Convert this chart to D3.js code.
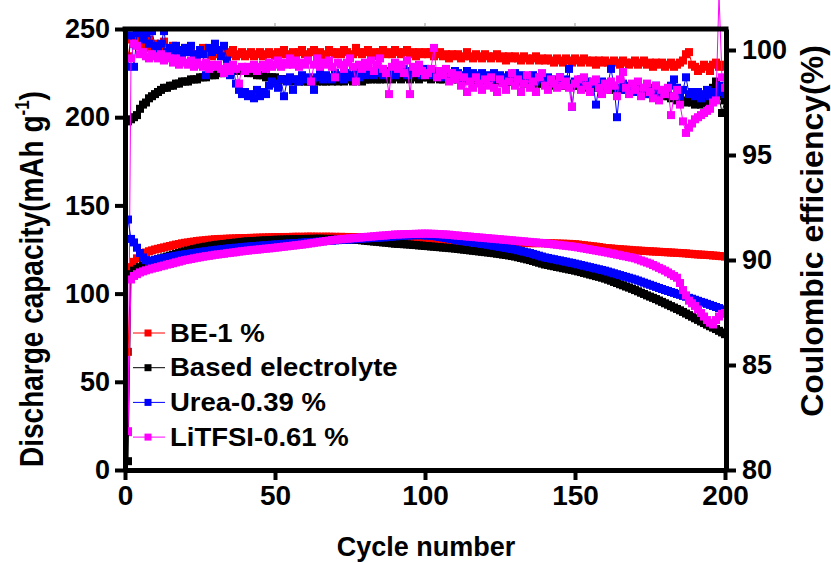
<!DOCTYPE html>
<html>
<head>
<meta charset="utf-8">
<style>
    body { margin: 0; background: #fff; }
    svg text { font-family: "Liberation Sans", Arial, sans-serif; font-weight: bold; }
</style>
</head>
<body>
<script src="https://d3js.org/d3.v7.min.js"></script>
<script>
// series names + colours (legend order = drawing order)
const seriesNames = ["BE-1 %", "Based electrolyte", "Urea-0.39 %", "LiTFSI-0.61 %"];
const seriesColors = ["#ff0000", "#000000", "#0000ff", "#ff00ff"];

const xTicks = [0, 50, 100, 150, 200];
const yLeftTicks = [0, 50, 100, 150, 200, 250];
const yRightTicks = [80, 85, 90, 95, 100];

// cycle number 1..200
const cycles = d3.range(1, 201);

// discharge capacity (mAh g-1)
const capBE = [
 67,115,118,120,121.5,122.5,123.3,124,124.5,125,
 125.4,125.8,126.2,126.6,127,127.4,127.8,128.1,128.5,128.8,
 129,129.3,129.5,129.8,130,130.1,130.3,130.5,130.6,130.8,
 130.9,131,131,131.1,131.2,131.2,131.3,131.4,131.4,131.5,
 131.5,131.6,131.6,131.7,131.7,131.8,131.8,131.9,131.9,132,
 132,132,132.1,132.1,132.1,132.2,132.2,132.2,132.2,132.2,
 132.3,132.3,132.2,132.3,132.2,132.2,132.3,132.2,132.2,132.2,
 132.1,132.2,132.1,132.1,132.1,132,132,132,132,132,
 131.9,131.9,131.8,131.8,131.7,131.7,131.6,131.6,131.5,131.5,
 131.4,131.3,131.2,131.1,131,130.9,130.8,130.7,130.6,130.5,
 130.4,130.3,130.2,130.1,130,129.9,129.8,129.7,129.6,129.5,
 129.5,129.4,129.4,129.3,129.3,129.2,129.2,129.1,129.1,129,
 129,129,128.9,128.9,128.9,128.8,128.8,128.8,128.8,128.8,
 128.7,128.7,128.7,128.7,128.6,128.6,128.6,128.6,128.6,128.6,
 128.5,128.5,128.4,128.4,128.3,128.3,128.2,128.2,128.1,128,
 127.8,127.6,127.4,127.2,127,126.8,126.6,126.4,126.1,125.8,
 125.7,125.6,125.4,125.3,125.2,125,124.9,124.8,124.6,124.5,
 124.4,124.3,124.2,124.1,124,123.9,123.8,123.7,123.6,123.5,
 123.4,123.3,123.2,123.1,123,122.9,122.8,122.6,122.5,122.3,
 122.2,122.1,122,121.9,121.8,121.6,121.5,121.3,121.2,121
];
const capBased = [
 5,111,113,114,115,116,116.8,117.5,118.2,119,
 119.5,120,120.5,121,121.5,122,122.5,123,123.5,124,
 124.4,124.8,125.2,125.6,126,126.3,126.6,126.9,127.2,127.5,
 127.7,127.9,128.1,128.3,128.5,128.7,128.9,129.1,129.3,129.5,
 129.6,129.7,129.8,129.9,130,130.1,130.2,130.3,130.4,130.5,
 130.5,130.6,130.6,130.7,130.7,130.8,130.8,130.9,130.9,131,
 131,131,131.1,131.1,131.1,131.1,131,131,131,131,
 130.9,130.9,130.8,130.8,130.7,130.6,130.5,130.4,130.2,130,
 129.8,129.7,129.5,129.4,129.2,129,128.9,128.7,128.5,128.3,
 128.2,128.1,128,127.9,127.8,127.6,127.5,127.3,127.2,127,
 126.9,126.7,126.6,126.4,126.3,126.1,126,125.8,125.7,125.5,
 125.3,125.1,124.9,124.7,124.5,124.3,124.1,123.9,123.7,123.5,
 123.3,123.1,122.9,122.6,122.4,122.1,121.9,121.6,121.3,121,
 120.6,120.2,119.8,119.4,119,118.5,118,117.5,117,116.5,
 116.2,115.8,115.5,115.1,114.8,114.4,114.1,113.7,113.4,113,
 112.6,112.2,111.7,111.3,110.8,110.4,109.9,109.5,109,108.5,
 107.9,107.3,106.6,106,105.3,104.7,104,103.4,102.7,102,
 101.3,100.5,99.8,99,98.3,97.6,96.9,96.1,95.3,94.5,
 93.7,92.9,92.1,91.3,90.5,89.6,88.7,87.8,86.9,86,
 85.1,84.2,83.3,82.4,81.5,80.7,79.9,78.9,78,77
];
const capUrea = [
 142,131,129,126,123,120.5,119,118.5,118.7,119.2,
 119.5,119.8,120.1,120.4,120.8,121.1,121.4,121.7,122,122.3,
 122.5,122.8,123,123.3,123.5,123.8,124,124.2,124.5,124.7,
 124.9,125.1,125.3,125.5,125.7,125.8,126,126.1,126.3,126.5,
 126.6,126.8,126.9,127,127.2,127.3,127.4,127.5,127.7,127.8,
 127.9,128,128.2,128.3,128.4,128.5,128.6,128.7,128.9,129,
 129.1,129.2,129.3,129.4,129.5,129.7,129.8,129.9,130,130.2,
 130.3,130.4,130.5,130.6,130.7,130.8,130.9,131,131.2,131.3,
 131.4,131.5,131.6,131.7,131.8,131.9,132,132.1,132.3,132.5,
 132.6,132.7,132.8,132.9,133,133.1,133.1,133.2,133.1,133,
 132.9,132.8,132.6,132.4,132.1,131.8,131.5,131.2,130.9,130.5,
 130.2,129.9,129.7,129.4,129.2,128.9,128.7,128.5,128.2,128,
 127.7,127.4,127.1,126.8,126.5,126.2,125.9,125.6,125.3,125,
 124.6,124.2,123.8,123.4,123,122.5,122,121.5,121,120.5,
 120.2,119.8,119.5,119.1,118.8,118.4,118.1,117.7,117.4,117,
 116.6,116.2,115.8,115.4,115,114.6,114.2,113.8,113.4,113,
 112.5,112,111.5,111,110.5,110,109.5,109,108.5,108,
 107.4,106.8,106.2,105.6,105,104.4,103.8,103.2,102.6,102,
 101.5,100.9,100.4,99.8,99.3,98.7,98.2,97.6,97.1,96.5,
 95.9,95.3,94.8,94.2,93.6,93,92.4,91.8,91.1,90.5
];
const capLiTFSI = [
 22,108,110,111,112,112.6,113.2,113.7,114.2,114.6,
 115,115.5,115.9,116.4,116.8,117.2,117.7,118.1,118.6,119,
 119.3,119.6,120,120.3,120.6,120.9,121.2,121.4,121.7,122,
 122.2,122.4,122.6,122.9,123.1,123.3,123.5,123.8,124,124.2,
 124.4,124.6,124.8,124.9,125.1,125.3,125.5,125.6,125.8,126,
 126.2,126.4,126.6,126.8,127,127.2,127.4,127.6,127.8,128,
 128.3,128.5,128.8,129,129.3,129.5,129.8,130,130.3,130.5,
 130.7,130.8,131,131.1,131.3,131.4,131.6,131.7,131.9,132,
 132.2,132.3,132.5,132.6,132.8,132.9,133,133.2,133.3,133.5,
 133.5,133.6,133.7,133.7,133.8,133.8,133.9,133.9,134,134,
 134,133.9,133.9,133.8,133.7,133.6,133.5,133.4,133.2,133,
 132.9,132.7,132.6,132.4,132.3,132.1,132,131.8,131.7,131.5,
 131.4,131.2,131.1,130.9,130.8,130.6,130.5,130.3,130.2,130,
 129.9,129.7,129.6,129.4,129.3,129.1,129,128.8,128.7,128.5,
 128.3,128.1,127.9,127.7,127.5,127.3,127.1,126.9,126.7,126.5,
 126.2,125.9,125.6,125.3,125,124.7,124.4,124.1,123.8,123.5,
 123.2,122.8,122.5,122.1,121.8,121.4,121.1,120.7,120.4,120,
 119.4,118.8,118.2,117.6,117,116.2,115.4,114.6,113.8,113,
 112,111,110,109,106,102,99,96,94.5,93,
 91,89,87,85,83.5,82.5,85,87,88.5,89
];

// coulombic efficiency (%)
const ceBE = [
 99.7,100.5,100.3,100.6,100.2,100.4,100.1,100.5,100.0,100.3,
 100.2,100.0,100.4,99.9,100.1,100.2,99.9,100.0,99.8,100.1,
 99.9,100.0,99.8,99.7,99.9,100.1,99.8,99.9,99.7,100.0,
 99.8,99.9,99.7,99.9,99.8,100.0,99.7,99.8,99.9,99.7,
 99.8,99.9,99.7,99.8,99.9,99.7,99.8,99.9,99.8,99.7,
 99.9,99.8,100.0,99.8,99.7,99.9,99.8,99.9,100.0,99.8,
 99.7,99.9,100.0,99.8,99.9,99.7,99.8,100.0,99.9,99.8,
 99.9,99.8,100.0,99.9,99.7,99.8,100.1,99.9,99.8,99.9,
 100.0,99.8,99.9,99.7,99.9,100.0,99.8,99.9,99.8,100.0,
 99.9,99.8,99.9,100.0,99.8,99.9,99.7,99.9,99.8,99.9,
 99.8,99.9,99.7,99.8,99.9,99.7,99.8,99.6,99.8,99.7,
 99.8,99.6,99.7,99.9,99.7,99.6,99.8,99.7,99.6,99.8,
 99.7,99.6,99.7,99.8,99.6,99.7,99.5,99.7,99.6,99.7,
 99.6,99.5,99.7,99.6,99.5,99.6,99.7,99.5,99.6,99.5,
 99.6,99.5,99.4,99.6,99.5,99.4,99.6,99.5,99.4,99.6,
 99.5,99.4,99.6,99.5,99.4,99.5,99.3,99.5,99.4,99.5,
 99.4,99.3,99.5,99.4,99.3,99.5,99.4,99.3,99.4,99.5,
 99.3,99.4,99.5,99.3,99.4,99.2,99.4,99.3,99.4,99.2,
 99.3,99.4,99.2,99.3,99.4,99.5,99.8,99.9,99.3,99.2,
 99.0,99.1,99.3,99.2,99.0,99.3,99.4,99.2,99.3,99.2
];
const ceBased = [
 96.6,96.7,96.8,96.9,97.2,97.4,97.5,97.7,97.8,97.9,
 98.0,98.1,98.2,98.2,98.3,98.3,98.4,98.4,98.5,98.5,
 98.5,98.6,98.6,98.6,98.7,98.7,98.7,98.8,98.8,98.8,
 98.9,98.9,98.9,99.0,99.0,99.0,99.0,99.0,99.0,99.0,
 98.9,98.9,98.9,98.8,98.8,98.8,98.7,98.7,98.7,98.7,
 98.6,98.6,98.6,98.6,98.6,98.5,98.6,98.5,98.6,98.5,
 98.5,98.6,98.5,98.5,98.6,98.5,98.5,98.6,98.5,98.6,
 98.5,98.6,98.5,98.6,98.6,98.5,98.6,98.6,98.5,98.6,
 98.6,98.6,98.7,98.6,98.6,98.7,98.6,98.7,98.6,98.7,
 98.7,98.6,98.7,98.7,98.6,98.7,98.7,98.6,98.7,98.7,
 98.7,98.6,98.7,98.7,98.6,98.6,98.7,98.6,98.6,98.7,
 98.6,98.6,98.7,98.6,98.6,98.6,98.5,98.6,98.6,98.5,
 98.6,98.5,98.6,98.5,98.5,98.6,98.5,98.5,98.5,98.4,
 98.5,98.5,98.4,98.5,98.4,98.4,98.5,98.4,98.4,98.4,
 98.4,98.3,98.4,98.3,98.4,98.3,98.3,98.4,98.3,98.3,
 98.3,98.2,98.3,98.2,98.3,98.2,98.2,98.3,98.2,98.2,
 98.2,98.1,98.2,98.1,98.2,98.1,98.1,98.2,98.0,98.1,
 98.0,98.1,98.0,97.9,98.0,97.9,97.9,97.8,97.9,97.8,
 97.8,97.7,97.8,97.6,97.7,97.6,97.5,97.6,97.5,97.4,
 97.5,97.4,97.5,97.6,97.3,98.2,98.5,97.8,97.0,97.6
];
const ceUrea = [
 99.2,100.7,99.2,100.8,100.9,100.5,100.8,100.3,100.9,100.2,
 100.0,100.3,100.9,99.9,100.1,99.8,100.2,100.0,99.7,100.1,
 99.9,100.2,99.8,99.6,100.0,99.8,98.8,100.1,99.9,100.3,
 100.0,99.7,100.2,99.5,98.8,99.2,98.4,98.1,97.9,98.0,
 97.8,97.9,97.7,98.1,97.8,98.0,97.9,98.3,98.5,98.4,
 98.2,98.6,97.8,98.5,98.7,98.1,98.6,98.5,98.8,98.6,
 98.7,98.5,98.1,98.7,98.9,98.6,98.8,98.7,98.6,98.9,
 98.7,98.8,98.6,98.9,98.7,98.8,99.0,98.7,98.9,98.8,
 98.9,99.0,98.8,99.1,98.9,98.8,99.0,98.9,99.1,98.8,
 99.0,98.9,99.1,98.8,99.0,99.1,98.9,99.0,98.8,99.1,
 98.9,99.0,98.8,99.0,98.9,98.7,99.0,98.9,98.8,99.0,
 98.9,98.8,98.6,99.0,98.7,98.9,98.8,98.6,98.9,98.7,
 98.8,98.6,98.9,98.7,98.8,98.5,98.7,98.8,98.6,98.9,
 98.6,98.8,98.5,98.7,98.6,98.8,98.5,98.7,98.6,98.5,
 98.7,98.5,98.6,98.4,98.7,98.5,98.6,99.1,97.3,98.5,
 98.4,98.6,98.3,98.5,98.2,98.4,97.4,98.3,98.5,98.2,
 98.4,99.1,98.3,96.8,98.2,98.4,98.1,98.3,98.2,98.0,
 98.3,98.1,98.2,97.9,98.2,98.0,98.3,97.8,98.1,97.9,
 98.0,98.3,98.6,98.2,97.8,98.1,98.7,97.9,98.0,97.8,
 98.0,97.7,97.9,98.1,97.8,98.0,97.9,98.3,98.0,97.9
];
const ceLiTFSI = [
 81.8,99.6,100.3,100.2,99.8,99.9,99.7,99.6,99.8,99.7,
 99.6,99.8,99.5,99.7,99.6,99.4,99.6,99.3,99.5,99.4,
 99.3,99.5,99.2,99.4,99.3,99.2,99.4,99.1,99.3,99.2,
 99.3,99.1,98.9,99.2,99.0,99.3,99.1,98.4,99.2,99.0,
 99.2,99.1,99.3,99.0,99.2,99.3,99.1,99.4,99.2,99.3,
 99.5,99.2,99.4,99.3,99.6,99.3,99.5,99.2,99.4,99.3,
 99.5,98.5,99.3,99.6,99.2,99.4,99.3,99.5,99.2,98.7,
 99.4,99.3,99.1,99.4,99.6,99.2,98.5,99.3,99.1,99.4,
 99.2,99.5,99.0,99.3,99.6,99.1,98.9,97.9,99.2,99.4,
 99.1,99.3,98.9,99.5,97.9,99.2,98.9,99.3,99.0,98.8,
 98.9,99.1,100.1,98.7,99.0,98.8,99.1,98.5,98.9,98.6,
 98.8,98.3,98.7,98.0,98.5,98.2,98.7,98.4,98.1,98.6,
 98.3,98.7,98.2,98.0,98.6,98.4,98.1,98.5,98.9,98.3,
 98.6,98.0,98.4,98.8,98.2,98.5,98.0,98.7,98.9,98.3,
 98.1,98.6,98.4,98.2,98.7,98.3,98.5,98.2,97.3,98.4,
 98.6,98.1,98.7,98.3,98.0,98.5,98.6,98.2,97.9,98.4,
 98.1,98.5,98.3,97.8,98.6,98.95,98.2,97.9,98.4,98.1,
 98.5,97.8,98.2,98.4,98.0,97.7,98.3,97.6,98.1,97.9,
 98.2,96.9,97.8,98.1,97.4,96.6,96.05,96.3,96.5,96.7,
 96.8,96.9,97.0,97.1,97.2,97.5,97.6,102.6,98.7,98.2
];

const capSeries = [capBE, capBased, capUrea, capLiTFSI];
const ceSeries = [ceBE, ceBased, ceUrea, ceLiTFSI];

const W = 831, H = 563;
const svg = d3.select("body").append("svg")
    .attr("width", W)
    .attr("height", H);

const x = d3.scaleLinear().domain([0, 200]).range([125, 725]);
const yL = d3.scaleLinear().domain([0, 250]).range([470, 29]);
const yR = d3.scaleLinear().domain([80, 101]).range([470, 29]);

const mk = 8; // marker size

function drawSeries(values, yScale, color) {
    const pts = cycles.map((c, i) => [c, values[i]]);
    const g = svg.append("g");
    g.append("path")
        .datum(pts)
        .attr("fill", "none")
        .attr("stroke", color)
        .attr("stroke-width", 1)
        .attr("d", d3.line().x(d => x(d[0])).y(d => yScale(d[1])));
    g.selectAll("rect")
        .data(pts)
        .join("rect")
        .attr("x", d => x(d[0]) - mk / 2)
        .attr("y", d => yScale(d[1]) - mk / 2)
        .attr("width", mk)
        .attr("height", mk)
        .attr("fill", color);
}

// efficiency first, capacity after
ceSeries.forEach((s, i) => drawSeries(s, yR, seriesColors[i]));
capSeries.forEach((s, i) => drawSeries(s, yL, seriesColors[i]));

// axes
function styleAxis(g, fs) {
    g.select(".domain").attr("stroke", "#000").attr("stroke-width", 5);
    g.selectAll(".tick line").attr("stroke", "#000").attr("stroke-width", 4);
    g.selectAll(".tick text")
        .attr("fill", "#000")
        .attr("font-size", fs)
        .attr("font-family", "'Liberation Sans', Arial, sans-serif")
        .attr("font-weight", "bold");
}

svg.append("g")
    .attr("transform", "translate(0,470)")
    .call(d3.axisBottom(x).tickValues(xTicks).tickSize(10).tickSizeOuter(0).tickPadding(5))
    .call(g => styleAxis(g, 28));

svg.append("g")
    .attr("transform", "translate(125,0)")
    .call(d3.axisLeft(yL).tickValues(yLeftTicks).tickSize(10).tickSizeOuter(0).tickPadding(5))
    .call(g => styleAxis(g, 27));

svg.append("g")
    .attr("transform", "translate(726,0)")
    .call(d3.axisRight(yR).tickValues(yRightTicks).tickSize(10).tickSizeOuter(0).tickPadding(6))
    .call(g => styleAxis(g, 27));

// top frame line with tiny ticks
svg.append("line")
    .attr("x1", 122.5).attr("x2", 728.5)
    .attr("y1", 29).attr("y2", 29)
    .attr("stroke", "#000").attr("stroke-width", 5);
svg.append("g").selectAll("line")
    .data(xTicks.slice(1, 4))
    .join("line")
    .attr("x1", d => x(d)).attr("x2", d => x(d))
    .attr("y1", 26).attr("y2", 23)
    .attr("stroke", "#999").attr("stroke-width", 1);

// axis titles
svg.append("text")
    .attr("x", 426).attr("y", 556)
    .attr("text-anchor", "middle")
    .attr("font-size", 27)
    .text("Cycle number");

const lt = svg.append("text")
    .attr("transform", "translate(43,279) rotate(-90) scale(1,1.2)")
    .attr("text-anchor", "middle")
    .attr("font-size", 28);
lt.append("tspan").text("Discharge capacity(mAh g");
lt.append("tspan").attr("font-size", 17).attr("dy", -12).text("-1");
lt.append("tspan").attr("dy", 12).text(")");

svg.append("text")
    .attr("transform", "translate(823,231) rotate(-90)")
    .attr("text-anchor", "middle")
    .attr("font-size", 32)
    .text("Coulombic efficiency(%)");

// legend
const legend = svg.append("g");
seriesNames.forEach((name, i) => {
    const ly = 333 + i * 34.7;
    legend.append("line")
        .attr("x1", 133).attr("x2", 165)
        .attr("y1", ly).attr("y2", ly)
        .attr("stroke", seriesColors[i]).attr("stroke-width", 1);
    legend.append("rect")
        .attr("x", 148 - 3.5).attr("y", ly - 3.5)
        .attr("width", 7).attr("height", 7)
        .attr("fill", seriesColors[i]);
    legend.append("text")
        .attr("transform", "translate(170," + ly + ") scale(1.1,1)")
        .attr("dy", "0.35em")
        .attr("font-size", 25)
        .text(name);
});
</script>
</body>
</html>
